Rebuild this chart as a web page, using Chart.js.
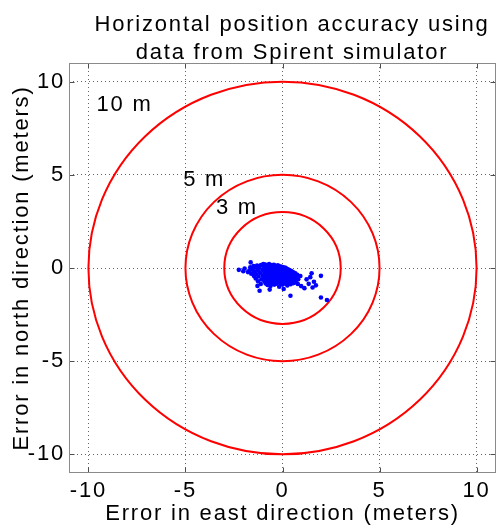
<!DOCTYPE html>
<html>
<head>
<meta charset="utf-8">
<script src="https://cdn.jsdelivr.net/npm/chart.js@4"></script>
<style>
  html, body { margin: 0; padding: 0; background: #fff; }
  #wrap { width: 500px; height: 529px; }
</style>
</head>
<body>
<div id="wrap"><canvas id="chart"></canvas></div>
<script>
const titleLines = ['Horizontal position accuracy using', 'data from Spirent simulator'];
const xTicks = [-10, -5, 0, 5, 10];
const yTicks = [-10, -5, 0, 5, 10];
const ringRadii = [3, 5, 10];
const ringLabels = ['3 m', '5 m', '10 m'];

// position error samples (meters)
const eastErr = [
    -2.25, -1.95, -1.64, -1.78, -2.02, 1.50, 1.98, 1.98, 2.29, 0.41,
    -1.18, 1.55, 1.13, 1.35, 1.62, 1.24, 0.96, -0.66, 0.06, 1.72,
    1.43, 0.92,
    -1.66, -1.56, -1.49, -1.46, -1.41, -1.36, -1.31, -1.27, -1.23, -1.19,
    -1.16, -1.11, -1.08, -1.04, -1.01, -1.61, -1.38, -1.26, -1.12, -1.29,
    -0.99, -1.47, -1.71,
    -0.96, -0.94, -0.97, -0.93,
    -0.89, -0.91, -0.88, -0.90, -0.87,
    -0.84, -0.86, -0.83, -0.85,
    -0.79, -0.81, -0.78, -0.80, -0.77,
    -0.74, -0.76, -0.73, -0.75,
    -0.69, -0.71, -0.68, -0.70, -0.67,
    -0.64, -0.66, -0.63, -0.65, -0.62,
    -0.59, -0.61, -0.58, -0.60,
    -0.54, -0.56, -0.53, -0.55, -0.52,
    -0.49, -0.51, -0.48, -0.50,
    -0.44, -0.46, -0.43, -0.45, -0.42,
    -0.39, -0.41, -0.38, -0.40,
    -0.34, -0.36, -0.33, -0.35,
    -0.29, -0.31, -0.28, -0.30,
    -0.24, -0.26, -0.23, -0.25,
    -0.19, -0.21, -0.18, -0.20, -0.17,
    -0.14, -0.16, -0.13, -0.15,
    -0.09, -0.11, -0.08, -0.10,
    -0.04, -0.06, -0.03, -0.05,
    0.01, -0.01, 0.02, 0.00,
    0.06, 0.04, 0.07, 0.05,
    0.11, 0.09, 0.12,
    0.16, 0.14, 0.17, 0.15,
    0.21, 0.19, 0.22,
    0.26, 0.24, 0.27, 0.25,
    0.31, 0.29, 0.32,
    0.36, 0.34, 0.37,
    0.41, 0.39, 0.42,
    0.46, 0.44, 0.47,
    0.51, 0.49,
    0.56, 0.54, 0.57,
    0.61, 0.59,
    0.66, 0.64,
    0.71, 0.69,
    0.76,
    0.81, 0.79
];
const northErr = [
    -0.10, -0.03, 0.30, -0.22, -0.17, -0.28, -0.42, -1.58, -1.72, -1.49,
    -1.22, -1.05, -1.08, -0.85, -0.74, -0.61, -0.97, -1.16, -1.13, -0.93,
    -0.49, -0.43,
    0.04, -0.09, 0.11, -0.21, 0.01, -0.33, 0.13, -0.12, -0.46, 0.03,
    -0.26, 0.16, -0.61, -0.09, -0.39, -0.31, -0.56, -0.71, -0.86, -0.96,
    0.21, -0.43, -0.14,
    0.09, -0.22, -0.46, -0.71,
    0.19, -0.04, -0.33, -0.57, -0.83,
    0.01, -0.26, -0.51, -0.76,
    0.13, -0.11, -0.39, -0.63, -0.91,
    0.06, -0.19, -0.46, -0.69,
    0.21, -0.06, -0.31, -0.54, -0.81,
    0.11, -0.14, -0.41, -0.66, -0.96,
    0.01, -0.24, -0.49, -0.76,
    0.16, -0.07, -0.36, -0.61, -0.86,
    0.04, -0.21, -0.44, -0.71,
    0.17, -0.09, -0.33, -0.59, -0.89,
    0.01, -0.26, -0.49, -0.79,
    0.11, -0.16, -0.41, -0.64,
    0.04, -0.29, -0.56, -0.84,
    0.14, -0.11, -0.36, -0.61,
    -0.01, -0.24, -0.51, -0.74, -1.01,
    0.09, -0.16, -0.43, -0.67,
    0.01, -0.29, -0.56, -0.86,
    0.07, -0.21, -0.44, -0.73,
    -0.04, -0.34, -0.61, -0.89,
    0.04, -0.26, -0.49, -0.79,
    -0.11, -0.39, -0.66,
    0.01, -0.29, -0.54, -0.84,
    -0.14, -0.46, -0.71,
    -0.06, -0.34, -0.63, -0.94,
    -0.19, -0.51, -0.79,
    -0.11, -0.39, -0.69,
    -0.27, -0.59, -0.87,
    -0.16, -0.44, -0.76,
    -0.34, -0.63,
    -0.23, -0.51, -0.81,
    -0.41, -0.69,
    -0.29, -0.59,
    -0.47, -0.77,
    -0.37,
    -0.61, -0.86
];

const fontFamily = "'Liberation Sans', Arial, Helvetica, sans-serif";
const spacing = '1.8px'; // reference text is rendered wider than Arial

// wider text for everything chart.js draws
const wideText = {
    id: 'wideText',
    beforeDraw(chart) {
        chart.ctx.letterSpacing = spacing;
    }
};

// two line title, centred a bit right of the plot like the original
const topTitle = {
    id: 'topTitle',
    afterDraw(chart) {
        const { ctx } = chart;
        ctx.save();
        ctx.letterSpacing = spacing;
        ctx.fillStyle = '#000';
        ctx.font = '22px ' + fontFamily;
        ctx.textAlign = 'center';
        ctx.textBaseline = 'alphabetic';
        ctx.fillText(titleLines[0], 292, 30.5);
        ctx.fillText(titleLines[1], 292, 58.5);
        ctx.restore();
    }
};

// red reference circles plus their "N m" labels
const rings = {
    id: 'rings',
    beforeDatasetsDraw(chart) {
        const { ctx, chartArea: a, scales: { x, y } } = chart;
        const cx = x.getPixelForValue(0);
        const cy = y.getPixelForValue(0);
        ctx.save();
        ctx.beginPath();
        ctx.rect(a.left, a.top, a.width, a.height);
        ctx.clip();
        ctx.strokeStyle = '#ff0000';
        ctx.lineWidth = 2;
        ringRadii.forEach(r => {
            const rx = Math.abs(x.getPixelForValue(r) - cx);
            const ry = Math.abs(y.getPixelForValue(r) - cy);
            ctx.beginPath();
            ctx.ellipse(cx, cy, rx, ry, 0, 0, Math.PI * 2);
            ctx.stroke();
        });
        // label anchors in meters (left edge, baseline)
        const anchors = [[-3.43, 2.9], [-5.12, 4.4], [-9.58, 8.4]];
        ctx.letterSpacing = spacing;
        ctx.fillStyle = '#000';
        ctx.font = '22px ' + fontFamily;
        ctx.textAlign = 'left';
        ctx.textBaseline = 'alphabetic';
        ringLabels.forEach((t, i) => {
            ctx.fillText(t, x.getPixelForValue(anchors[i][0]), y.getPixelForValue(anchors[i][1]));
        });
        ctx.restore();
    }
};

// matlab style box with inward tick marks
const frame = {
    id: 'frame',
    afterDraw(chart) {
        const { ctx, chartArea: a, scales: { x, y } } = chart;
        const l = Math.round(a.left) + 0.5, r = Math.round(a.right) - 0.5;
        const t = Math.round(a.top) + 0.5, b = Math.round(a.bottom) - 0.5;
        ctx.save();
        ctx.lineWidth = 1;
        ctx.strokeStyle = '#4d4d4d';
        ctx.beginPath();
        xTicks.forEach(v => {
            const px = Math.round(x.getPixelForValue(v)) + 0.5;
            ctx.moveTo(px, b); ctx.lineTo(px, b - 5);
            ctx.moveTo(px, t); ctx.lineTo(px, t + 5);
        });
        yTicks.forEach(v => {
            const py = Math.round(y.getPixelForValue(v)) + 0.5;
            ctx.moveTo(l, py); ctx.lineTo(l + 5, py);
            ctx.moveTo(r, py); ctx.lineTo(r - 5, py);
        });
        ctx.stroke();
        ctx.strokeStyle = '#8a8a8a';
        ctx.strokeRect(l, t, r - l, b - t);
        ctx.restore();
    }
};

const textFont = { family: fontFamily, size: 22 };

const ctx = document.getElementById('chart').getContext('2d');
const chart = new Chart(ctx, {
    type: 'scatter',
    data: {
        datasets: [{
            data: eastErr.map((v, i) => ({ x: v, y: northErr[i] })),
            backgroundColor: '#0000ff',
            borderWidth: 0,
            pointStyle: 'circle',
            pointRadius: 2.3
        }]
    },
    options: {
        responsive: true,
        maintainAspectRatio: false,
        animation: false,
        layout: { padding: { left: 0, right: 2.5, top: 63, bottom: 0 } },
        plugins: {
            legend: { display: false },
            tooltip: { enabled: false },
            title: { display: false }
        },
        scales: {
            x: {
                type: 'linear',
                min: -11,
                max: 11,
                afterBuildTicks: s => { s.ticks = xTicks.map(v => ({ value: v })); },
                afterFit: s => { s.height = 56; },
                grid: { color: 'rgba(0,0,0,0.6)', lineWidth: 1, drawTicks: false },
                border: { display: false, dash: [1, 3] },
                ticks: { color: '#000', font: textFont, padding: 5, maxRotation: 0, autoSkip: false },
                title: {
                    display: true,
                    text: 'Error in east direction (meters)',
                    color: '#000',
                    font: textFont,
                    padding: { top: 0, bottom: 2 }
                }
            },
            y: {
                type: 'linear',
                min: -11,
                max: 11,
                afterBuildTicks: s => { s.ticks = yTicks.map(v => ({ value: v })); },
                afterFit: s => { s.width = 69; },
                grid: { color: 'rgba(0,0,0,0.6)', lineWidth: 1, drawTicks: false },
                border: { display: false, dash: [1, 3] },
                ticks: { color: '#000', font: textFont, padding: 4, autoSkip: false },
                title: {
                    display: true,
                    text: 'Error in north direction (meters)',
                    color: '#000',
                    font: textFont,
                    padding: { top: 9, bottom: 0 }
                }
            }
        }
    },
    plugins: [wideText, rings, frame, topTitle]
});
</script>
</body>
</html>
